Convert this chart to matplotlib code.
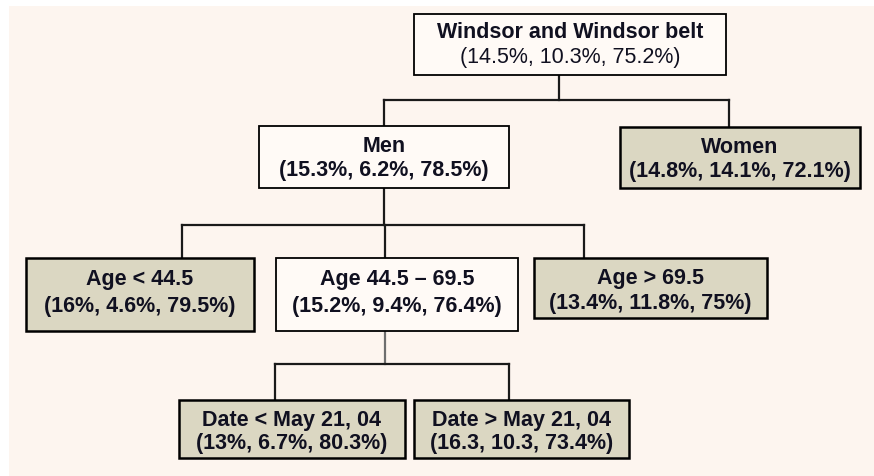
import matplotlib.pyplot as plt
from matplotlib.patches import Rectangle

# node labels and the three percentages shown under each one
names = ["Windsor and Windsor belt", "Men", "Women",
         "Age < 44.5", "Age 44.5 \u2013 69.5", "Age > 69.5",
         "Date < May 21, 04", "Date > May 21, 04"]
pct_a = ["14.5%", "15.3%", "14.8%", "16%", "15.2%", "13.4%", "13%", "16.3"]
pct_b = ["10.3%", "6.2%", "14.1%", "4.6%", "9.4%", "11.8%", "6.7%", "10.3"]
pct_c = ["75.2%", "78.5%", "72.1%", "79.5%", "76.4%", "75%", "80.3%", "73.4%"]
terminal = [False, False, True, True, False, True, True, True]
parent = [None, 0, 0, 1, 1, 1, 4, 4]

# layout in pixels: box (x0, y0, x1, y1), where the link enters/leaves the box
boxes = [(414, 15, 726, 76), (259, 127, 509, 189), (620, 128, 860, 189),
         (26, 259, 254, 332), (276, 259, 518, 332), (534, 259, 767, 319),
         (179, 401, 405, 459), (414, 401, 629, 459)]
text_y = [(33, 58), (147, 171), (148, 172), (280, 307), (280, 307),
          (279, 304), (421, 444), (421, 444)]
link_x = [559, 384, 729, 182, 385, 584, 275, 509]
bar_y = {0: 101, 1: 226, 4: 365}

BG = "#fdf5ef"
TAN = "#dbd7c2"
PALE = "#fffaf6"
INK = "#101020"

fig = plt.figure(figsize=(8.74, 4.77), dpi=100)
ax = fig.add_axes([0, 0, 1, 1])
ax.set_xlim(0, 874)
ax.set_ylim(477, 0)
ax.axis("off")
fig.patch.set_facecolor("white")
ax.add_patch(Rectangle((9, 7), 865, 470, facecolor=BG, edgecolor="none", zorder=0))

# connectors
for p, y in bar_y.items():
    kids = [i for i, q in enumerate(parent) if q == p]
    xs = [link_x[k] for k in kids]
    lc = "#6e6e6e" if p == 4 else "#1a1a1a"
    ax.plot([link_x[p], link_x[p]], [boxes[p][3], y], color=lc, lw=1.6, zorder=1)
    ax.plot([min(xs), max(xs)], [y, y], color="#1a1a1a", lw=1.6, zorder=1)
    for k in kids:
        ax.plot([link_x[k], link_x[k]], [y, boxes[k][1]], color="#1a1a1a",
                lw=1.6, zorder=1)

# boxes and text
for i, name in enumerate(names):
    x0, y0, x1, y1 = boxes[i]
    ax.add_patch(Rectangle((x0, y0), x1 - x0, y1 - y0,
                           facecolor=TAN if terminal[i] else PALE,
                           edgecolor="black", lw=1.8 if terminal[i] else 1.3,
                           zorder=2))
    cx = (x0 + x1) / 2
    ax.text(cx, text_y[i][0], name, ha="center", va="center", fontsize=15.5,
            fontweight="bold", color=INK, family="Liberation Sans", zorder=3)
    sub = "(%s, %s, %s)" % (pct_a[i], pct_b[i], pct_c[i])
    ax.text(cx, text_y[i][1], sub, ha="center", va="center", fontsize=15.5,
            fontweight="normal" if i == 0 else "bold", color=INK,
            family="Liberation Sans", zorder=3)

fig.savefig("out.png", dpi=100, facecolor="white")
